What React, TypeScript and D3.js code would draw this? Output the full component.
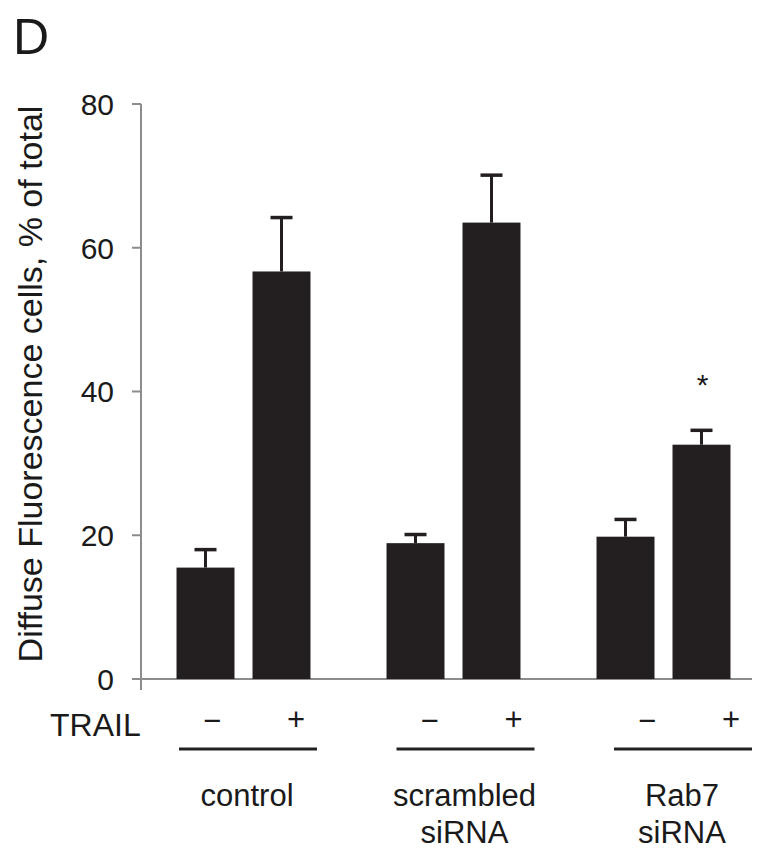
import React from "react";
import * as d3 from "d3";

const groups = ["control", "scrambled siRNA", "Rab7 siRNA"];
const groupLines = [["control"], ["scrambled", "siRNA"], ["Rab7", "siRNA"]];
const trail = ["−", "+"];
const means = [
  [15.5, 56.7],
  [18.9, 63.5],
  [19.8, 32.6],
];
const errors = [
  [2.5, 7.5],
  [1.2, 6.6],
  [2.4, 2.0],
];
const significant = [
  [false, false],
  [false, false],
  [false, true],
];
const yTicks = [0, 20, 40, 60, 80];
const yLabel = "Diffuse Fluorescence cells, % of total";
const panel = "D";

const W = 758;
const H = 850;
const FONT = "'Liberation Sans', Arial, Helvetica, sans-serif";
const BAR = "#231f20";
const AXIS = "#8c8c8c";

export default function App() {
  const y = d3.scaleLinear().domain([0, 80]).range([679, 104]);
  const xGroup = d3
    .scaleBand<string>()
    .domain(groups)
    .range([138.5, 768.5])
    .paddingInner(0.362)
    .paddingOuter(0.181);
  const xInner = d3
    .scaleBand<string>()
    .domain(trail)
    .range([0, xGroup.bandwidth()])
    .paddingInner(0.237);
  const labelStep = 217.5;
  const labelWidth = 138;
  const xLabel = d3
    .scaleBand<string>()
    .domain(groups)
    .range([179, 179 + labelStep * 2 + labelWidth])
    .paddingInner((labelStep - labelWidth) / labelStep)
    .paddingOuter(0);

  const axisX = 141;
  const cap = 11;

  return (
    <svg
      width={W}
      height={H}
      style={{ position: "absolute", left: 0, top: 0, background: "#fff" }}
      fontFamily={FONT}
    >
      <rect width={W} height={H} fill="#fff" />
      <text x={13} y={54} fontSize={50} fill="#1a1a1a">
        {panel}
      </text>

      {/* y axis */}
      <line x1={axisX} x2={axisX} y1={y(80)} y2={690} stroke={AXIS} strokeWidth={2} />
      {yTicks.map((t) => (
        <g key={t}>
          <line x1={132} x2={axisX} y1={y(t)} y2={y(t)} stroke={AXIS} strokeWidth={2} />
          <text
            x={114}
            y={y(t)}
            dy="0.36em"
            textAnchor="end"
            fontSize={30}
            fill="#1a1a1a"
          >
            {t}
          </text>
        </g>
      ))}
      <line x1={132} x2={752} y1={y(0)} y2={y(0)} stroke={AXIS} strokeWidth={2} />

      <text
        transform={`translate(42, 384) rotate(-90)`}
        textAnchor="middle"
        fontSize={34}
        fill="#1a1a1a"
      >
        {yLabel}
      </text>

      {/* bars */}
      {groups.map((g, gi) =>
        trail.map((tr, ti) => {
          const x0 = (xGroup(g) as number) + (xInner(tr) as number);
          const bw = xInner.bandwidth();
          const cx = x0 + bw / 2;
          const v = means[gi][ti];
          const e = errors[gi][ti];
          return (
            <g key={g + tr}>
              <rect x={x0} y={y(v)} width={bw} height={y(0) - y(v)} fill={BAR} />
              <line x1={cx} x2={cx} y1={y(v)} y2={y(v + e)} stroke={BAR} strokeWidth={3} />
              <line
                x1={cx - cap}
                x2={cx + cap}
                y1={y(v + e)}
                y2={y(v + e)}
                stroke={BAR}
                strokeWidth={3.5}
              />
              {significant[gi][ti] && (
                <text
                  x={cx + 1}
                  y={y(v + e) - 35}
                  textAnchor="middle"
                  fontSize={30}
                  fill="#1a1a1a"
                >
                  *
                </text>
              )}
            </g>
          );
        })
      )}

      {/* TRAIL row */}
      <text x={50} y={736} fontSize={32} fill="#1a1a1a">
        TRAIL
      </text>
      {groups.map((g, gi) => {
        const lx = xLabel(g) as number;
        const lw = xLabel.bandwidth();
        return (
          <g key={"lab" + g}>
            <text x={lx + 33} y={731} textAnchor="middle" fontSize={31} fill="#1a1a1a">
              {trail[0]}
            </text>
            <text x={lx + 117} y={730} textAnchor="middle" fontSize={31} fill="#1a1a1a">
              {trail[1]}
            </text>
            <line x1={lx} x2={lx + lw} y1={749} y2={749} stroke="#222" strokeWidth={3} />
            {groupLines[gi].map((s, si) => (
              <text
                key={s}
                x={lx + 68}
                y={806 + si * 37}
                textAnchor="middle"
                fontSize={31}
                fill="#1a1a1a"
              >
                {s}
              </text>
            ))}
          </g>
        );
      })}
    </svg>
  );
}
